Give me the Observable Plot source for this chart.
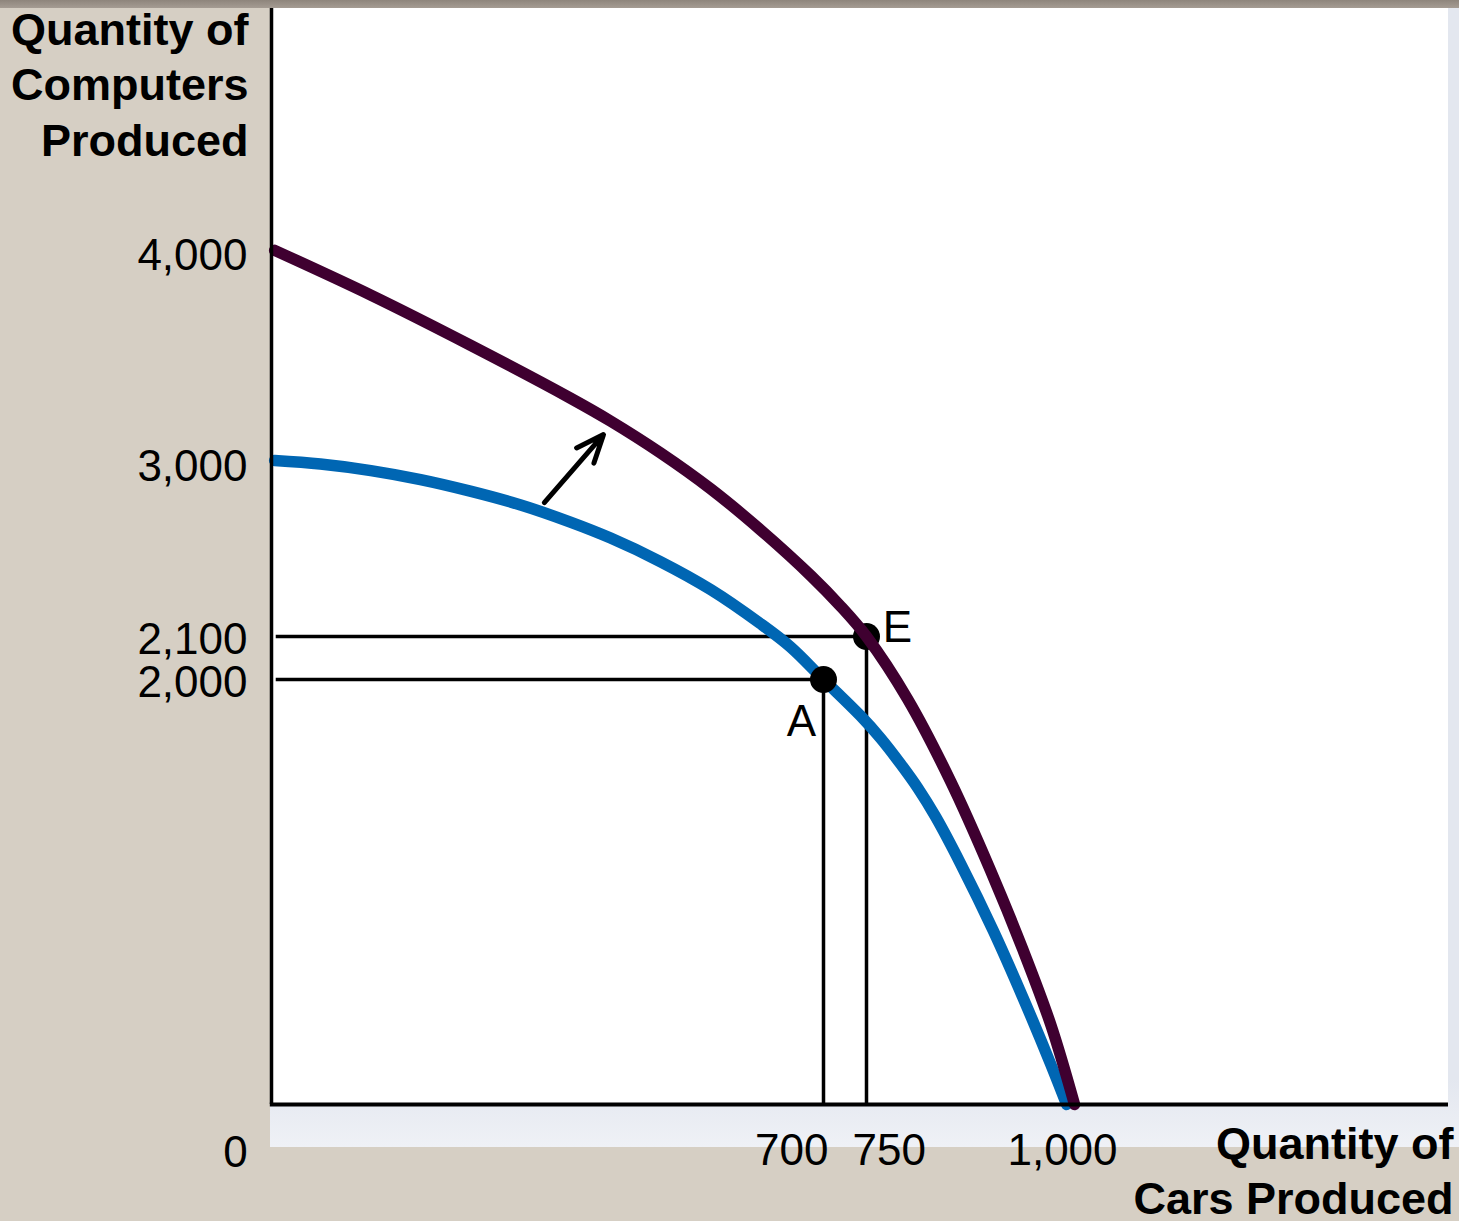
<!DOCTYPE html>
<html>
<head>
<meta charset="utf-8">
<script src="https://cdn.jsdelivr.net/npm/d3@7"></script>
<script src="https://cdn.jsdelivr.net/npm/@observablehq/plot@0.6"></script>
<style>
  html, body { margin: 0; padding: 0; }
  body { width: 1459px; height: 1221px; background: #d6cfc4; position: relative; overflow: hidden; font-family: "Liberation Sans", Arial, sans-serif; }
  #topband { position: absolute; left: 0; top: 0; width: 1459px; height: 8px; background: linear-gradient(#8e857c, #a59c93); }
  #panel { position: absolute; left: 270px; top: 8px; width: 1189px; height: 1139px; background: linear-gradient(#e3e7ef 0%, #e3e7ef 94%, #eff1f6 100%); }
  #inner { position: absolute; left: 271px; top: 8px; width: 1177px; height: 1096px; background: #ffffff; }
  #chart { position: absolute; left: 0; top: 0; }
</style>
</head>
<body>
<div id="topband"></div>
<div id="panel"></div>
<div id="inner"></div>
<div id="chart"></div>
<script>
// ---- data ----
const xTicks = [700, 750, 1000];
const yTicks = [2000, 2100, 3000, 4000];

// original PPF (blue)
const oldCars      = [4, 62, 126, 189, 252, 316, 379, 430, 493, 557, 620, 658, 700, 743, 768, 793, 815, 838, 869, 911, 949, 984, 1004];
const oldComputers = [3014, 2997, 2963, 2916, 2856, 2784, 2695, 2612, 2490, 2344, 2167, 2076, 2000, 1829, 1723, 1604, 1490, 1352, 1136, 817, 499, 188, 0];

// new PPF (dark purple)
const newCars      = [4, 126, 252, 379, 430, 493, 557, 620, 684, 720, 750, 802, 857, 907, 949, 984, 1014];
const newComputers = [4010, 3798, 3561, 3310, 3201, 3051, 2868, 2655, 2416, 2257, 2100, 1909, 1519, 1105, 724, 374, 0];

// labelled points
const pointLabels = ["A", "E"];
const pointCars = [700, 750];
const pointComputers = [2000, 2100];

// shift arrow
const arrowFrom = {cars: 346, computers: 2797};
const arrowTo = {cars: 421, computers: 3137};

const yTitle = "Quantity of\nComputers\nProduced";
const xTitle = "Quantity of\nCars Produced";

// ---- tables ----
const oldPPF = oldCars.map((c, i) => ({cars: c, computers: oldComputers[i]}));
const newPPF = newCars.map((c, i) => ({cars: c, computers: newComputers[i]}));
const points = pointLabels.map((l, i) => ({label: l, cars: pointCars[i], computers: pointComputers[i]}));

const fmt = d3.format(",");
const font = "'Liberation Sans', Arial, Helvetica, sans-serif";
const tickText = (value, opts) => Plot.text([value], {x: d => d, y: () => 0, text: d => fmt(d), dy: 46, fontSize: 44, fill: "#000", ...opts});

const chart = Plot.plot({
  width: 1459,
  height: 1221,
  margin: 0,
  style: {background: "transparent", fontFamily: font, overflow: "visible"},
  x: {type: "linear", domain: [0, 700, 750, 1000, 1488], range: [271, 823, 866, 1063, 1448], axis: null},
  y: {type: "linear", domain: [0, 2000, 2100, 3000, 4000, 5156], range: [1104, 679, 636, 463, 252, 8], axis: null},
  marks: [
    // guide lines
    Plot.ruleY(points, {y: "computers", x1: () => 6, x2: "cars", stroke: "#000", strokeWidth: 3.5}),
    Plot.ruleX(points, {x: "cars", y1: () => 0, y2: "computers", stroke: "#000", strokeWidth: 3.5}),
    // original PPF
    Plot.line(oldPPF, {x: "cars", y: "computers", stroke: "#0066b3", strokeWidth: 11.5, curve: "catmull-rom"}),
    // points
    Plot.dot(points, {x: "cars", y: "computers", r: 13.5, fill: "#000", stroke: "none"}),
    // new PPF
    Plot.line(newPPF, {x: "cars", y: "computers", stroke: "#3f0030", strokeWidth: 11.5, curve: "catmull-rom"}),
    // shift arrow
    Plot.arrow([{}], {x1: () => arrowFrom.cars, y1: () => arrowFrom.computers, x2: () => arrowTo.cars, y2: () => arrowTo.computers,
      stroke: "#000", strokeWidth: 5, headLength: 26, headAngle: 45}),
    // point labels
    Plot.text(points.filter(d => d.label === "A"), {x: "cars", y: "computers", text: "label", dx: -22, dy: 42, fontSize: 44, fill: "#000"}),
    Plot.text(points.filter(d => d.label === "E"), {x: "cars", y: "computers", text: "label", dx: 31, dy: -9, fontSize: 44, fill: "#000"}),
    // axes lines
    Plot.ruleX([0], {y1: () => 0, y2: () => 5156, stroke: "#000", strokeWidth: 3.5}),
    Plot.ruleY([0], {x1: () => -1.5, x2: () => 1488, stroke: "#000", strokeWidth: 4}),
    // tick labels
    Plot.text(yTicks, {x: () => 0, y: d => d, text: d => fmt(d), textAnchor: "end", dx: -24, dy: 3, fontSize: 44, fill: "#000"}),
    tickText(xTicks[0], {textAnchor: "end", dx: 5}),
    tickText(xTicks[1], {textAnchor: "start", dx: -14}),
    tickText(xTicks[2], {dx: -1}),
    Plot.text([0], {x: d => d, y: d => d, text: d => fmt(d), dx: -36, dy: 48, fontSize: 44, fill: "#000"}),
    // axis titles
    Plot.text([yTitle], {frameAnchor: "top-left", text: d => d, textAnchor: "end", lineAnchor: "middle", lineHeight: 1.23,
      dx: 248, dy: 82, fontSize: 45, fontWeight: "bold", fill: "#000"}),
    Plot.text([xTitle], {frameAnchor: "top-left", text: d => d, textAnchor: "end", lineAnchor: "middle", lineHeight: 1.23,
      dx: 1453, dy: 1168, fontSize: 45, fontWeight: "bold", fill: "#000"})
  ]
});
document.getElementById("chart").appendChild(chart);
</script>
</body>
</html>
